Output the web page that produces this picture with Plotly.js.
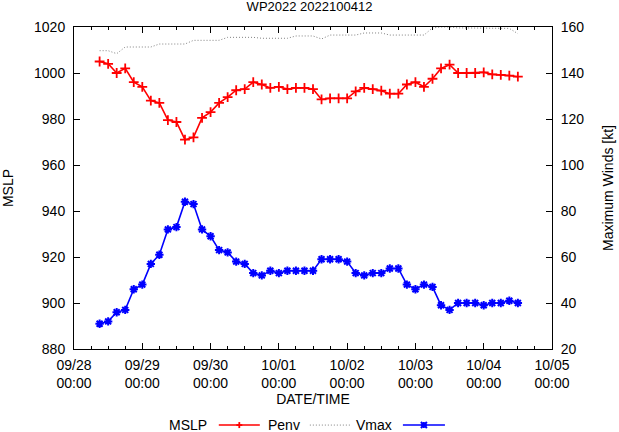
<!DOCTYPE html>
<html>
<head>
<meta charset="utf-8">
<script src="https://cdn.plot.ly/plotly-3.0.1.min.js"></script>
<style>
html,body{margin:0;padding:0;background:#fff;}
#chart{width:619px;height:432px;}
</style>
</head>
<body>
<div id="chart"></div>
<script>
// ---- data ----
const times = [
  '2022-09-28 09:00','2022-09-28 12:00','2022-09-28 15:00','2022-09-28 18:00','2022-09-28 21:00',
  '2022-09-29 00:00','2022-09-29 03:00','2022-09-29 06:00','2022-09-29 09:00','2022-09-29 12:00','2022-09-29 15:00','2022-09-29 18:00','2022-09-29 21:00',
  '2022-09-30 00:00','2022-09-30 03:00','2022-09-30 06:00','2022-09-30 09:00','2022-09-30 12:00','2022-09-30 15:00','2022-09-30 18:00','2022-09-30 21:00',
  '2022-10-01 00:00','2022-10-01 03:00','2022-10-01 06:00','2022-10-01 09:00','2022-10-01 12:00','2022-10-01 15:00','2022-10-01 18:00','2022-10-01 21:00',
  '2022-10-02 00:00','2022-10-02 03:00','2022-10-02 06:00','2022-10-02 09:00','2022-10-02 12:00','2022-10-02 15:00','2022-10-02 18:00','2022-10-02 21:00',
  '2022-10-03 00:00','2022-10-03 03:00','2022-10-03 06:00','2022-10-03 09:00','2022-10-03 12:00','2022-10-03 15:00','2022-10-03 18:00','2022-10-03 21:00',
  '2022-10-04 00:00','2022-10-04 03:00','2022-10-04 06:00','2022-10-04 09:00','2022-10-04 12:00'
];
const mslp = [1005,1004,1000,1002,996,994,988,987,979.5,978.7,
              971,972,980.5,983,987,989.5,992.5,993,996,995,
              993.5,994,993,993.5,993.5,993,988.5,989,989,989,
              992,993.5,993,992.3,991,991,995,996,994,997.5,
              1002,1003.6,1000,1000,1000,1000.3,999.4,999.2,998.9,998.4];
const penv = [1009.7,1009.7,1008.4,1011.3,1011.3,1011.3,1011.3,1012.6,1012.6,1012.6,
              1012.6,1014.2,1014.2,1014.2,1014.2,1015.5,1015.5,1015.5,1015.5,1015.1,
              1015.1,1015.1,1015.1,1016.1,1016.1,1016.1,1014.8,1016.5,1016.5,1016.5,
              1016.5,1017.4,1017.4,1017.4,1016.5,1016.5,1016.5,1016.5,1016.5,1019.6,
              1020,1020,1019.6,1019.6,1019.6,1019.6,1019.6,1019.6,1019.4,1017.1];
const vmax = [31,32,36,37,46,48,57,61,72,73,
              84,83,72,69,63,62,58,57,53,52,
              54,53,54,54,54,54,59,59,59,58,
              53,52,53,53,55,55,48,46,48,47,
              39,37,40,40,40,39,40,40,41,40];
const titleText = 'WP2022 2022100412';
const seriesNames = ['MSLP','Penv','Vmax'];

// ---- chart ----
const FONT = 'Liberation Sans, Arial, sans-serif';
const DOT = '1px,2px';
const DOTCOL = '#808080';
const traces = [
  {x: times, y: mslp, name: seriesNames[0], type: 'scatter', mode: 'lines+markers',
   line: {color: '#ff0000', width: 1.6},
   marker: {symbol: 'cross-thin-open', size: 7, color: '#ff0000', line: {color: '#ff0000', width: 1.8}},
   xaxis: 'x', yaxis: 'y', showlegend: false},
  {x: times, y: penv, name: seriesNames[1], type: 'scatter', mode: 'lines',
   line: {color: DOTCOL, width: 1, dash: DOT},
   xaxis: 'x', yaxis: 'y', showlegend: false},
  {x: times, y: vmax, name: seriesNames[2], type: 'scatter', mode: 'lines+markers',
   line: {color: '#0000ff', width: 1.6},
   marker: {symbol: 'asterisk-open', size: 7, color: '#0000ff', line: {color: '#0000ff', width: 2}},
   xaxis: 'x', yaxis: 'y2', showlegend: false}
];

// legend (gnuplot style: text then sample), placed in paper coords
const L = 74.3, R = 552, T = 27.3, B = 349;
const px = v => (v - L) / (R - L);
const py = v => (B - v) / (B - T);
const ly = py(425);
const dxp = 3 / (R - L), dyp = 3 / (B - T);
const shapes = [];
const annotations = [];
function legendEntry(label, textRight, x0, x1, color, dash, mk) {
  annotations.push({xref: 'paper', yref: 'paper', x: px(textRight), y: ly, xanchor: 'right', yanchor: 'middle',
    text: label, showarrow: false, font: {family: FONT, size: 14, color: '#000'}});
  shapes.push({type: 'line', xref: 'paper', yref: 'paper', x0: px(x0), x1: px(x1), y0: ly, y1: ly,
    line: {color: color, width: dash ? 1 : 1.6, dash: dash || 'solid'}});
  if (mk) {
    const cx = px((x0 + x1) / 2);
    shapes.push({type: 'line', xref: 'paper', yref: 'paper', x0: cx - dxp, x1: cx + dxp, y0: ly, y1: ly, line: {color: color, width: 1.8}});
    shapes.push({type: 'line', xref: 'paper', yref: 'paper', x0: cx, x1: cx, y0: ly - dyp, y1: ly + dyp, line: {color: color, width: 1.8}});
    if (mk === 'ast') {
      shapes.push({type: 'line', xref: 'paper', yref: 'paper', x0: cx - dxp, x1: cx + dxp, y0: ly - dyp, y1: ly + dyp, line: {color: color, width: 2}});
      shapes.push({type: 'line', xref: 'paper', yref: 'paper', x0: cx - dxp, x1: cx + dxp, y0: ly + dyp, y1: ly - dyp, line: {color: color, width: 2}});
    }
  }
}
legendEntry(seriesNames[0], 209, 219, 260, '#ff0000', null, 'plus');
legendEntry(seriesNames[1], 302, 310, 351, DOTCOL, DOT, null);
legendEntry(seriesNames[2], 394, 403, 445, '#0000ff', null, 'ast');

const layout = {
  width: 619, height: 432,
  margin: {l: 74, r: 67, t: 27, b: 83, pad: 0},
  paper_bgcolor: '#ffffff', plot_bgcolor: '#ffffff',
  font: {family: FONT, size: 14, color: '#000'},
  showlegend: false,
  title: {text: titleText, x: 0.5, xref: 'container', xanchor: 'center', y: 0.984, yref: 'container', yanchor: 'middle',
          font: {family: FONT, size: 13, color: '#000'}},
  xaxis: {
    type: 'date', range: ['2022-09-28 00:00', '2022-10-05 00:00'],
    tickmode: 'linear', tick0: '2022-09-28 00:00', dtick: 86400000,
    tickformat: '%m/%d<br>%H:%M',
    ticks: 'inside', ticklen: 6, tickwidth: 1, tickcolor: '#000',
    minor: {dtick: 21600000, ticks: 'inside', ticklen: 3, tickwidth: 1, tickcolor: '#000', showgrid: false},
    showline: true, linecolor: '#000', linewidth: 1, mirror: 'ticks',
    showgrid: false, zeroline: false, ticklabelstandoff: 3,
    tickfont: {family: FONT, size: 14, color: '#000'},
    title: {text: 'DATE/TIME', font: {family: FONT, size: 14, color: '#000'}, standoff: 4}
  },
  yaxis: {
    range: [880, 1020], tickmode: 'linear', tick0: 880, dtick: 20,
    ticks: 'inside', ticklen: 6, tickwidth: 1, tickcolor: '#000',
    showline: true, linecolor: '#000', linewidth: 1, mirror: false,
    showgrid: false, zeroline: false, ticklabelstandoff: 5,
    tickfont: {family: FONT, size: 14, color: '#000'},
    title: {text: 'MSLP', font: {family: FONT, size: 14, color: '#000'}, standoff: 22}
  },
  yaxis2: {
    range: [20, 160], tickmode: 'linear', tick0: 20, dtick: 20,
    overlaying: 'y', side: 'right', anchor: 'x',
    ticks: 'inside', ticklen: 6, tickwidth: 1, tickcolor: '#000',
    showline: true, linecolor: '#000', linewidth: 1,
    showgrid: false, zeroline: false, ticklabelstandoff: 5,
    tickfont: {family: FONT, size: 14, color: '#000'},
    title: {text: 'Maximum Winds [kt]', font: {family: FONT, size: 14, color: '#000'}, standoff: 19}
  },
  shapes: shapes,
  annotations: annotations
};

Plotly.newPlot('chart', traces, layout, {displayModeBar: false, staticPlot: true});
</script>
</body>
</html>
